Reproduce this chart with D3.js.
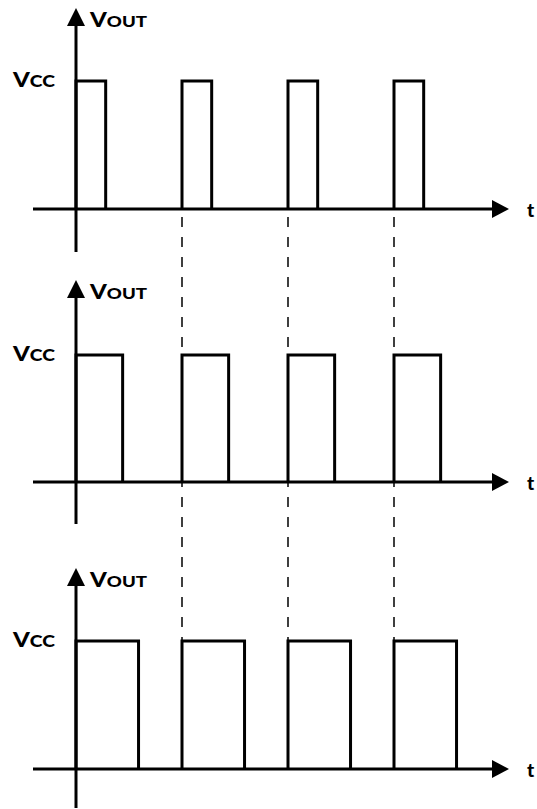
<!DOCTYPE html>
<html lang="en">
<head>
    <meta charset="UTF-8">
    <title>PWM</title>
    <script src="https://cdn.jsdelivr.net/npm/d3@7"></script>
</head>
<body>
    <div class="marco"></div>

    <style>
        body, html {margin: 0; padding: 0; background: #fff;}
        .marco {width: 537px; height: 809px;}
        text {font-family: Lato, "DejaVu Sans", sans-serif; font-weight: 900; fill: #000;}
    </style>

    <script>
        // datos del grafico
        const pulseStarts = [0, 1, 2, 3];          // inicio de cada pulso (en periodos)
        const dutyCycles = [0.28, 0.44, 0.59];      // ciclo de trabajo de cada señal
        const levels = [0, 1];                      // 0 V y Vcc
        const yLabel = ["V", "OUT"];
        const levelLabel = ["V", "CC"];
        const xLabel = "t";

        var width = 537, height = 809;

        // posicion vertical de cada panel
        var panels = [
            {top: 8, vcc: 81, base: 209, bottom: 252},
            {top: 280, vcc: 355, base: 482, bottom: 524},
            {top: 568, vcc: 641, base: 769, bottom: 808}
        ];

        var svg = d3.select(".marco").append("svg")
            .attr("width", width)
            .attr("height", height);

        // escala de tiempo comun
        var x = d3.scaleLinear().domain([0, 1]).range([76, 182]);
        var xStart = 33, xEnd = 509;

        // lineas discontinuas entre paneles
        svg.append("g").selectAll("line")
            .data(pulseStarts.slice(1))
            .enter().append("line")
            .attr("x1", d => x(d)).attr("x2", d => x(d))
            .attr("y1", panels[0].base + 8)
            .attr("y2", panels[2].vcc)
            .attr("stroke", "#000")
            .attr("stroke-width", 1.5)
            .attr("stroke-dasharray", "10,10");

        var linea = d3.line().x(d => x(d[0]));

        panels.forEach((p, i) => {
            var y = d3.scaleLinear().domain(levels).range([p.base, p.vcc]);
            var g = svg.append("g");

            // pulsos
            g.selectAll("path.pulso")
                .data(pulseStarts)
                .enter().append("path")
                .attr("class", "pulso")
                .attr("fill", "none")
                .attr("stroke", "#000")
                .attr("stroke-width", 3)
                .attr("d", s => linea.y(d => y(d[1]))([
                    [s, 0], [s, 1], [s + dutyCycles[i], 1], [s + dutyCycles[i], 0]
                ]));

            // eje horizontal
            g.append("line")
                .attr("x1", xStart).attr("x2", xEnd - 14)
                .attr("y1", p.base).attr("y2", p.base)
                .attr("stroke", "#000").attr("stroke-width", 3);
            g.append("path")
                .attr("d", `M${xEnd},${p.base} L${xEnd - 17},${p.base - 9} L${xEnd - 17},${p.base + 9} Z`)
                .attr("fill", "#000");

            // eje vertical
            g.append("line")
                .attr("x1", x(0)).attr("x2", x(0))
                .attr("y1", p.top + 14).attr("y2", p.bottom)
                .attr("stroke", "#000").attr("stroke-width", 3);
            g.append("path")
                .attr("d", `M${x(0)},${p.top} L${x(0) - 9},${p.top + 18} L${x(0) + 9},${p.top + 18} Z`)
                .attr("fill", "#000");

            // textos
            var tOut = g.append("text").attr("x", 90).attr("y", p.top + 19)
                .attr("textLength", 57).attr("lengthAdjust", "spacingAndGlyphs");
            tOut.append("tspan").attr("font-size", 20).text(yLabel[0]);
            tOut.append("tspan").attr("font-size", 15.5).text(yLabel[1]);

            var tVcc = g.append("text").attr("x", 13).attr("y", p.vcc + 6)
                .attr("textLength", 42).attr("lengthAdjust", "spacingAndGlyphs");
            tVcc.append("tspan").attr("font-size", 20.5).text(levelLabel[0]);
            tVcc.append("tspan").attr("font-size", 16.5).text(levelLabel[1]);

            g.append("text")
                .attr("x", 527).attr("y", p.base + 8)
                .attr("font-size", 19)
                .text(xLabel);
        });
    </script>
</body>
</html>
